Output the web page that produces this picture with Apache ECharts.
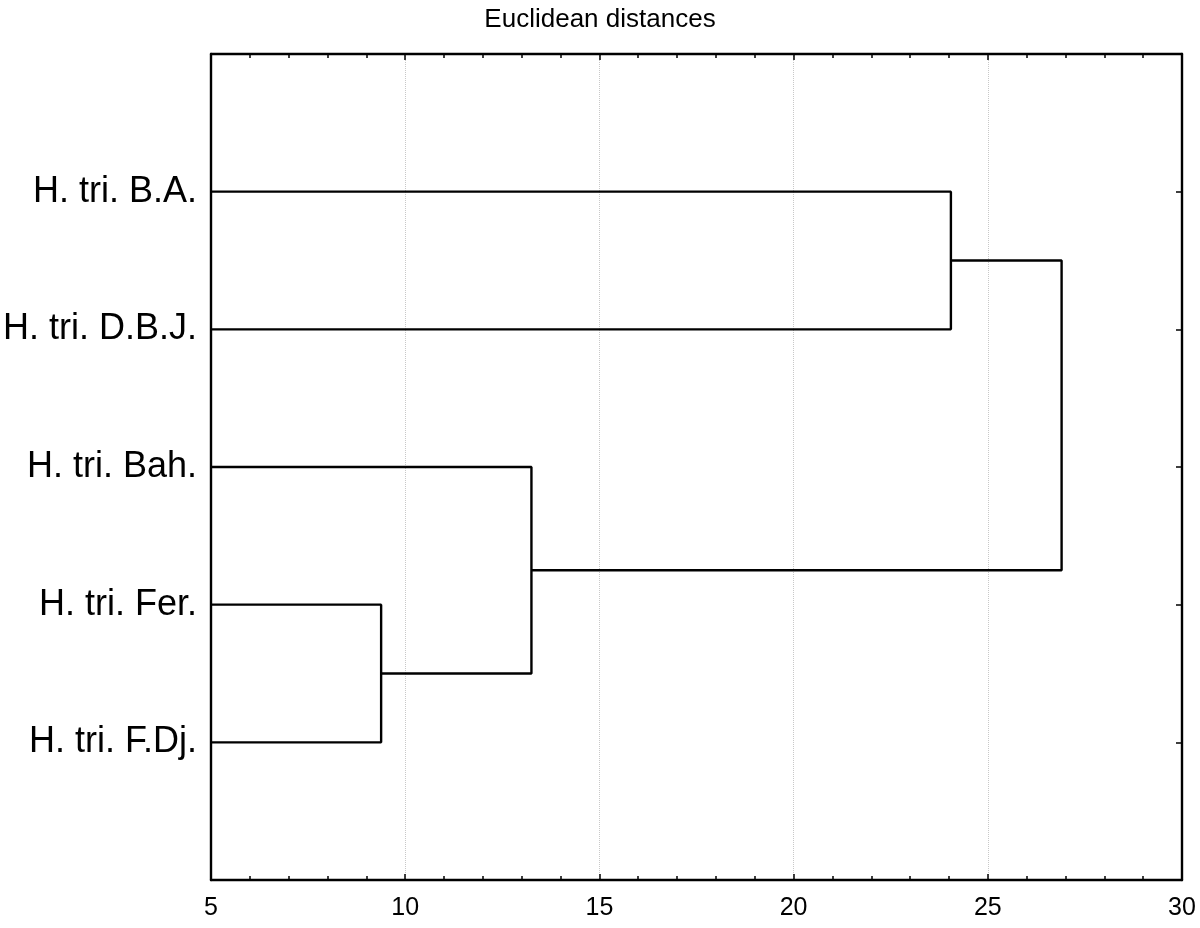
<!DOCTYPE html>
<html>
<head>
<meta charset="utf-8">
<script src="https://cdn.jsdelivr.net/npm/echarts@6/dist/echarts.min.js"></script>
<style>html,body{margin:0;padding:0;background:#fff;}#c{width:1200px;height:928px;}</style>
</head>
<body>
<div id="c"></div>
<script>
// Leaves (top to bottom)
const leaves = ['H. tri. B.A.', 'H. tri. D.B.J.', 'H. tri. Bah.', 'H. tri. Fer.', 'H. tri. F.Dj.'];
// Linkage: node ids 0..4 are leaves, merges create ids 5,6,7,8
const mergeLeft = [3, 0, 2, 6];
const mergeRight = [4, 1, 5, 7];
const mergeHeight = [9.38, 24.05, 13.25, 26.9];
const xMin = 5, xMax = 30, xStep = 5;
const titleText = 'Euclidean distances';

const nodeY = leaves.map((_, i) => i + 1);
const nodeH = leaves.map(() => xMin);
const series = [];
for (let k = 0; k < mergeHeight.length; k++) {
  const a = mergeLeft[k], b = mergeRight[k], h = mergeHeight[k];
  series.push({
    type: 'line', symbol: 'none', silent: true, clip: true,
    lineStyle: { color: '#000', width: 2.4 },
    data: [[nodeH[a], nodeY[a]], [h, nodeY[a]], [h, nodeY[b]], [nodeH[b], nodeY[b]]]
  });
  nodeY.push((nodeY[a] + nodeY[b]) / 2);
  nodeH.push(h);
}

const font = 'Liberation Sans, Arial, sans-serif';
const chart = echarts.init(document.getElementById('c'));
chart.setOption({
  animation: false,
  backgroundColor: '#fff',
  title: { text: titleText, left: 'center', top: 2,
    textStyle: { fontSize: 26, fontWeight: 'normal', color: '#000', fontFamily: font } },
  grid: { left: 210, right: 18, top: 54, bottom: 48, containLabel: false },
  xAxis: [
    { type: 'value', position: 'bottom', min: xMin, max: xMax, interval: xStep,
      axisLine: { show: true, onZero: false, lineStyle: { color: '#000', width: 2.4 } },
      axisTick: { show: true, inside: true, length: 6, lineStyle: { color: '#000', width: 1.5 } },
      minorTick: { show: true, splitNumber: 5, length: 4, lineStyle: { color: '#000', width: 1.5 } },
      axisLabel: { show: true, fontSize: 25, color: '#000', fontFamily: font, margin: 16 },
      splitLine: { show: true, lineStyle: { color: '#c8c8c8', type: 'dotted', width: 1 } } },
    { type: 'value', position: 'top', min: xMin, max: xMax, interval: xStep,
      axisLine: { show: true, onZero: false, lineStyle: { color: '#000', width: 2.4 } },
      axisTick: { show: true, inside: true, length: 6, lineStyle: { color: '#000', width: 1.5 } },
      minorTick: { show: true, splitNumber: 5, length: 4, lineStyle: { color: '#000', width: 1.5 } },
      axisLabel: { show: false }, splitLine: { show: false } }
  ],
  yAxis: [
    { type: 'value', position: 'left', min: 0, max: leaves.length + 1, interval: 1, inverse: true,
      axisLine: { show: true, onZero: false, lineStyle: { color: '#000', width: 2.4 } },
      axisTick: { show: false },
      axisLabel: { show: true, fontSize: 36, color: '#000', fontFamily: font, margin: 14,
        formatter: v => (v >= 1 && v <= leaves.length) ? leaves[v - 1] : '' },
      splitLine: { show: false } },
    { type: 'value', position: 'right', min: 0, max: leaves.length + 1, interval: 1, inverse: true,
      axisLine: { show: true, onZero: false, lineStyle: { color: '#000', width: 2.4 } },
      axisTick: { show: true, inside: true, length: 6, lineStyle: { color: '#000', width: 1.5 } },
      axisLabel: { show: false }, splitLine: { show: false } }
  ],
  series: series
});
</script>
</body>
</html>
